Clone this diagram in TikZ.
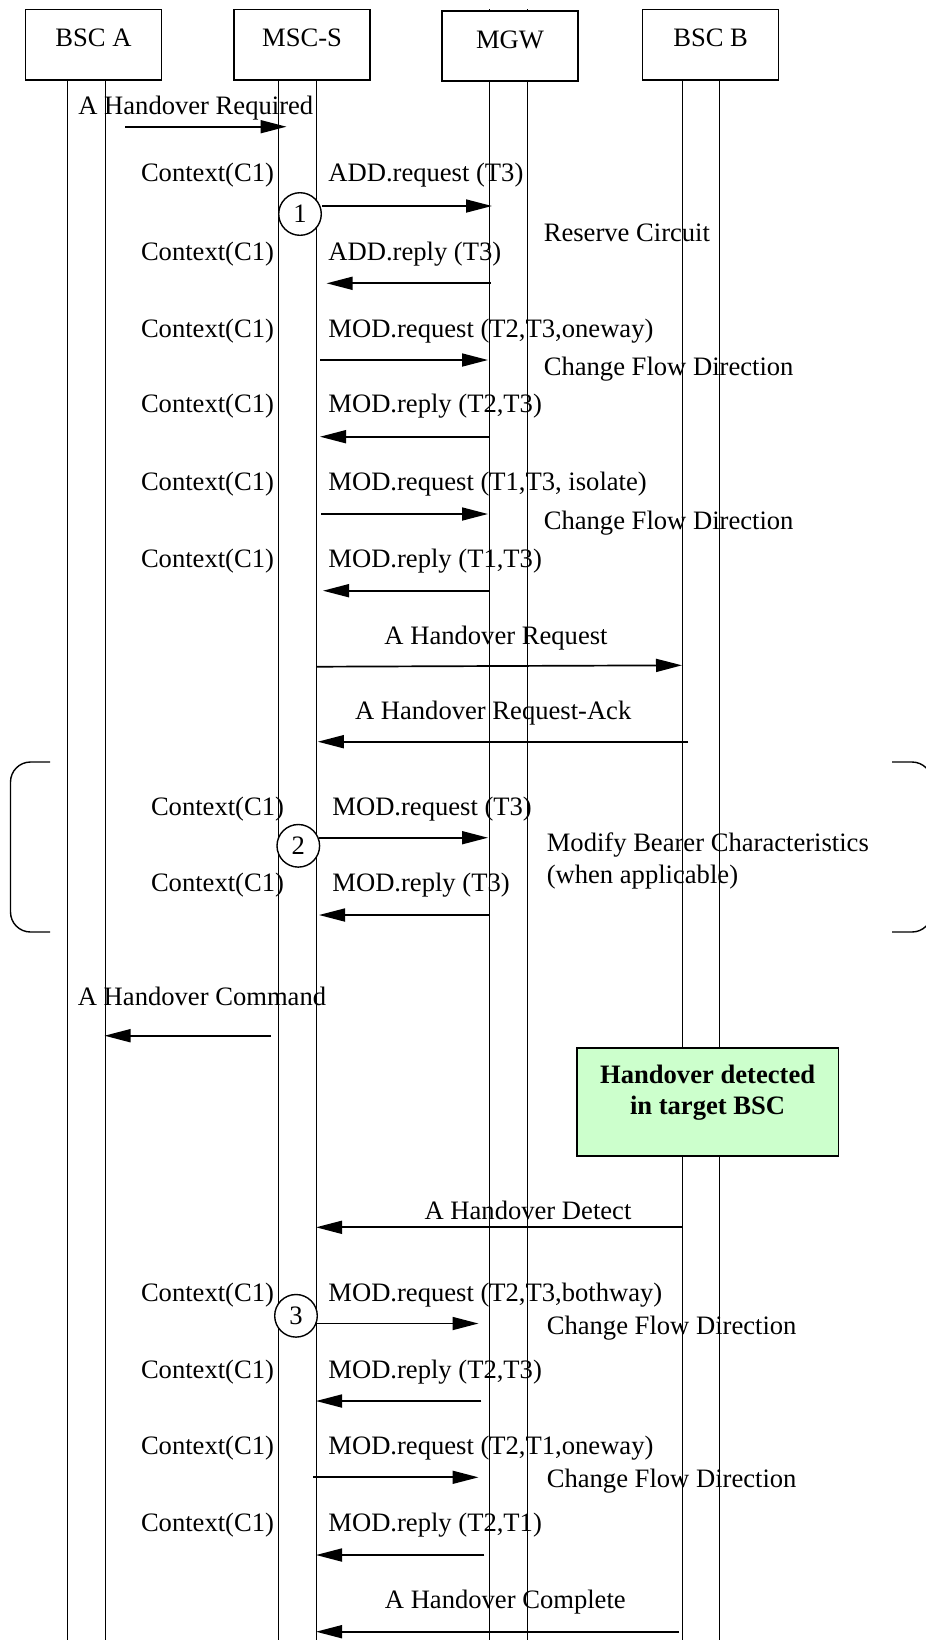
\documentclass[tikz,border=0pt]{standalone}
\usepackage{fontspec}
\setmainfont{Liberation Serif}
\usepackage{tikz}
\usetikzlibrary{arrows.meta}
\definecolor{DetectGreen}{RGB}{204,255,204}

\begin{document}
\begin{tikzpicture}[x=0.5pt,y=-0.5pt,
    txt/.style={font=\fontsize{13.3}{15.3}\selectfont,inner sep=0pt,
                text height=9.3pt,text depth=2.9pt},
    entity/.style={draw,line width=0.85pt,fill=white,minimum width=68pt,
                minimum height=35.3pt,font=\fontsize{13.3}{15.3}\selectfont,
                text height=6pt,text depth=4pt},
    life/.style={line width=0.6pt},
    msg/.style={line width=0.85pt,-{Triangle[length=13pt,width=6.5pt]}},
    num/.style={circle,draw,line width=0.7pt,fill=white,minimum size=21.3pt,
                inner sep=0pt,font=\fontsize{13.3}{15.3}\selectfont},
    detectbox/.style={draw,line width=0.85pt,fill=DetectGreen,
                minimum width=130.9pt,minimum height=54.2pt},
    brace/.style={line width=0.7pt,rounded corners=10pt}]
  \useasboundingbox (0,0) rectangle (926,1640);

  % lifelines
  \draw[life] (67.3,80) -- (67.3,1640);
  \draw[life] (105.7,80) -- (105.7,1640);
  \draw[life] (278.8,80) -- (278.8,1640);
  \draw[life] (316.6,80) -- (316.6,1640);
  \draw[life] (489.7,9) -- (489.7,1640);
  \draw[life] (527.5,9) -- (527.5,1640);
  \draw[life] (682.2,80) -- (682.2,1640);
  \draw[life] (719.4,80) -- (719.4,1640);

  % entities
  \node[entity] (bscA) at (93.4,44.7) {BSC A};
  \node[entity] (msc) at (302.1,44.7) {MSC-S};
  \node[entity] (mgw) at (510,46) {MGW};
  \node[entity] (bscB) at (710.6,44.7) {BSC B};

  % A Handover Required
  \node[txt] (hreqtxt) at (195.8,108) {A Handover Required};
  \coordinate (hrA) at (125.2,126.7); \coordinate (hrB) at (286.5,126.7);
  \draw[msg] (hrA) -- (hrB);

  % reserve circuit
  \node[txt,anchor=west] (ctx1) at (140.6,175) {Context(C1)};
  \node[txt,anchor=west] (addreq) at (328,175) {ADD.request (T3)};
  \node[num] (one) at (300,214) {1};
  \coordinate (addqA) at (322,206); \coordinate (addqB) at (492,206);
  \draw[msg] (addqA) -- (addqB);
  \node[txt,anchor=west] (reserve) at (543.4,234.7) {Reserve Circuit};
  \node[txt,anchor=west] (ctx2) at (140.6,253.7) {Context(C1)};
  \node[txt,anchor=west] (addrep) at (328,253.7) {ADD.reply (T3)};
  \coordinate (addpA) at (490.8,283.3); \coordinate (addpB) at (326.6,283.3);
  \draw[msg] (addpA) -- (addpB);

  % change flow direction (oneway)
  \node[txt,anchor=west] (ctx3) at (140.6,331.3) {Context(C1)};
  \node[txt,anchor=west] (modreq1) at (328,331.3) {MOD.request (T2,T3,oneway)};
  \coordinate (mq1A) at (320,360); \coordinate (mq1B) at (488,360);
  \draw[msg] (mq1A) -- (mq1B);
  \node[txt,anchor=west] (flow1) at (543.4,369.3) {Change Flow Direction};
  \node[txt,anchor=west] (ctx4) at (140.6,406.3) {Context(C1)};
  \node[txt,anchor=west] (modrep1) at (328,406.3) {MOD.reply (T2,T3)};
  \coordinate (mp1A) at (489.7,436.7); \coordinate (mp1B) at (320,436.7);
  \draw[msg] (mp1A) -- (mp1B);

  % change flow direction (isolate)
  \node[txt,anchor=west] (ctx5) at (140.6,484.3) {Context(C1)};
  \node[txt,anchor=west] (modreq2) at (328,484.3) {MOD.request (T1,T3, isolate)};
  \coordinate (mq2A) at (321,514); \coordinate (mq2B) at (488,514);
  \draw[msg] (mq2A) -- (mq2B);
  \node[txt,anchor=west] (flow2) at (543.4,522.7) {Change Flow Direction};
  \node[txt,anchor=west] (ctx6) at (140.6,561) {Context(C1)};
  \node[txt,anchor=west] (modrep2) at (328,561) {MOD.reply (T1,T3)};
  \coordinate (mp2A) at (489.7,590.7); \coordinate (mp2B) at (323,590.7);
  \draw[msg] (mp2A) -- (mp2B);

  % A Handover Request / Ack
  \node[txt] (hoqtxt) at (496,638) {A Handover Request};
  \coordinate (hoqA) at (316.6,666.7); \coordinate (hoqB) at (682,665.3);
  \draw[msg] (hoqA) -- (hoqB);
  \node[txt] (hoatxt) at (493.2,713) {A Handover Request-Ack};
  \coordinate (hoaA) at (688,741.7); \coordinate (hoaB) at (317.8,741.7);
  \draw[msg] (hoaA) -- (hoaB);

  % optional bearer modification
  \draw[brace] (50,762) -- (10.5,762) -- (10.5,932) -- (50,932);
  \draw[brace] (892,762) -- (932,762) -- (932,932) -- (892,932);
  \node[txt,anchor=west] (ctx7) at (150.6,808.7) {Context(C1)};
  \node[txt,anchor=west] (modreq3) at (332,808.7) {MOD.request (T3)};
  \node[num] (two) at (298.3,845.8) {2};
  \coordinate (mq3A) at (319,837.7); \coordinate (mq3B) at (488,837.7);
  \draw[msg] (mq3A) -- (mq3B);
  \node[txt,anchor=west] (bearer) at (546.4,845.3) {Modify Bearer Characteristics};
  \node[txt,anchor=west] (applic) at (546.4,877) {(when applicable)};
  \node[txt,anchor=west] (ctx8) at (150.6,885.3) {Context(C1)};
  \node[txt,anchor=west] (modrep3) at (332,885.3) {MOD.reply (T3)};
  \coordinate (mp3A) at (489.7,915); \coordinate (mp3B) at (319,915);
  \draw[msg] (mp3A) -- (mp3B);

  % A Handover Command
  \node[txt] (hoctxt) at (202,999.3) {A Handover Command};
  \coordinate (hocA) at (270.5,1035.7); \coordinate (hocB) at (104.5,1035.7);
  \draw[msg] (hocA) -- (hocB);

  % detection in target BSC
  \node[detectbox] (detect) at (707.6,1102) {};
  \node[font=\fontsize{13.3}{15.35}\selectfont\bfseries,align=center,inner sep=0pt]
    (detecttxt) at ([yshift=4.6pt]detect.center) {Handover detected\\in target BSC};
  \node[txt] (hodtxt) at (528,1212.7) {A Handover Detect};
  \coordinate (hodA) at (682,1227.3); \coordinate (hodB) at (316,1227.3);
  \draw[msg] (hodA) -- (hodB);

  % change flow direction (bothway)
  \node[txt,anchor=west] (ctx9) at (140.6,1294.7) {Context(C1)};
  \node[txt,anchor=west] (modreq4) at (328,1294.7) {MOD.request (T2,T3,bothway)};
  \node[num] (three) at (296,1315.8) {3};
  \coordinate (mq4A) at (316,1323.5); \coordinate (mq4B) at (478.5,1323.5);
  \draw[msg] (mq4A) -- (mq4B);
  \node[txt,anchor=west] (flow3) at (546.4,1328) {Change Flow Direction};
  \node[txt,anchor=west] (ctx10) at (140.6,1372) {Context(C1)};
  \node[txt,anchor=west] (modrep4) at (328,1372) {MOD.reply (T2,T3)};
  \coordinate (mp4A) at (481.4,1401); \coordinate (mp4B) at (316,1401);
  \draw[msg] (mp4A) -- (mp4B);

  % change flow direction (T2,T1 oneway)
  \node[txt,anchor=west] (ctx11) at (140.6,1448) {Context(C1)};
  \node[txt,anchor=west] (modreq5) at (328,1448) {MOD.request (T2,T1,oneway)};
  \coordinate (mq5A) at (313,1477.3); \coordinate (mq5B) at (478.5,1477.3);
  \draw[msg] (mq5A) -- (mq5B);
  \node[txt,anchor=west] (flow4) at (546.4,1481.3) {Change Flow Direction};
  \node[txt,anchor=west] (ctx12) at (140.6,1525.3) {Context(C1)};
  \node[txt,anchor=west] (modrep5) at (328,1525.3) {MOD.reply (T2,T1)};
  \coordinate (mp5A) at (484.3,1555); \coordinate (mp5B) at (316,1555);
  \draw[msg] (mp5A) -- (mp5B);

  % A Handover Complete
  \node[txt] (hcotxt) at (505.3,1602) {A Handover Complete};
  \coordinate (hcA) at (679,1631.7); \coordinate (hcB) at (316,1631.7);
  \draw[msg] (hcA) -- (hcB);
\end{tikzpicture}
\end{document}
